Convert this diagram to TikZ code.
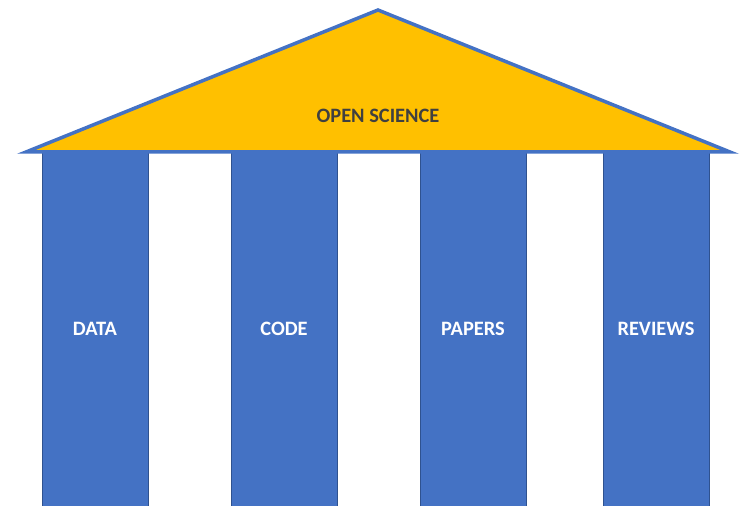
\documentclass[tikz,border=0pt]{standalone}
\usepackage{fontspec}
\setmainfont{Carlito}
\usepackage{tikz}
\usetikzlibrary{calc,positioning}
\definecolor{pillarblue}{HTML}{4472C4}
\definecolor{pillaredge}{HTML}{2F528F}
\definecolor{roofgold}{HTML}{FFC000}
\definecolor{roofink}{HTML}{404040}
\tikzset{pillar/.style={draw=pillaredge,line width=0.75bp,fill=pillarblue,
                        minimum width=106bp,minimum height=354bp,inner sep=0pt,
                        text=white,font=\bfseries\fontsize{20.5}{24}\selectfont}}

\begin{document}
\begin{tikzpicture}[x=1bp,y=-1bp]
                \useasboundingbox (0,0) rectangle (741,506);
                % the four pillars
                \node[pillar] (data)    at (95,329)  {DATA};
                \node[pillar] (code)    at (284,329) {CODE};
                \node[pillar] (papers)  at (473,329) {PAPERS};
                \node[pillar] (reviews) at (656,329) {REVIEWS};
                % the roof
                \coordinate (eaveleft)  at (26,152);
                \coordinate (apex)      at (378,10);
                \coordinate (eaveright) at (730,152);
                \draw[draw=pillarblue,line width=3.5bp,fill=roofgold,line join=miter]
                    (eaveleft)--(apex)--(eaveright)--cycle;
                \node[text=roofink,font=\bfseries\fontsize{20.5}{24}\selectfont] (roof) at (378,116) {OPEN SCIENCE};

            \end{tikzpicture}
\end{document}
